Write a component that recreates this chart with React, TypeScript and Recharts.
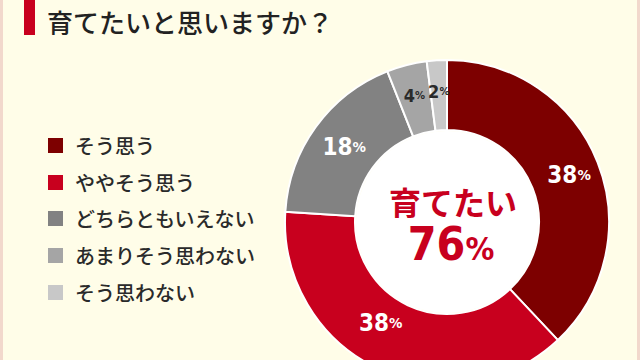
import React from 'react';
import { PieChart, Pie, Cell } from 'recharts';

const answers = ['そう思う', 'ややそう思う', 'どちらともいえない', 'あまりそう思わない', 'そう思わない'];
const shares = [38, 38, 18, 4, 2];
const colors = ['#7d0000', '#c8001e', '#828282', '#a5a5a5', '#c8c8c8'];
const labelColors = ['#ffffff', '#ffffff', '#ffffff', '#2a2a2a', '#2a2a2a'];

const centerTitle = '育てたい';
const centerValue = 76;

const data = answers.map((name, i) => ({ name, value: shares[i] }));

const CX = 447;
const CY = 222;
const RAD = Math.PI / 180;
const numFont = '"DejaVu Sans Condensed", "DejaVu Sans", Roboto, sans-serif';
const jpFont = '"Noto Sans CJK JP", "Noto Sans", sans-serif';

function SliceLabel(props: any) {
  const { cx, cy, midAngle, innerRadius, outerRadius, index, value } = props;
  // the lower red label sits a little further round the ring in the original
  const angle = index === 1 ? midAngle - 8 : midAngle;
  const r = index >= 3 ? outerRadius - 31 : (innerRadius + outerRadius) / 2 - (index === 1 ? 6 : 0);
  const x = cx + r * Math.cos(-angle * RAD) + (index === 0 ? 4 : 0);
  const y = cy + r * Math.sin(-angle * RAD);
  const big = index < 3 ? 24 : 18;
  return (
    <text x={x} y={y} textAnchor="middle" dominantBaseline="central" fill={labelColors[index]}
      fontFamily={numFont} fontWeight="bold" fontSize={big}>
      {value}
      <tspan fontSize={big * 0.62}>%</tspan>
    </text>
  );
}

export default function App() {
  return (
    <div style={{ position: 'absolute', left: 0, top: 0, width: 640, height: 360, overflow: 'hidden', background: '#fffde8' }}>
      <div style={{ position: 'absolute', left: 0, top: 0, width: 3, height: 360, background: '#f2d8cc' }} />
      <div style={{ position: 'absolute', right: 0, top: 0, width: 3, height: 360, background: '#f2d8cc' }} />
      <div style={{ position: 'absolute', left: 24, top: 0, width: 11, height: 35, background: '#c8001e' }} />
      <div style={{ position: 'absolute', left: 47, top: 3, fontSize: 26, lineHeight: '38px', color: '#222', fontFamily: jpFont, fontWeight: 500 }}>
        育てたいと思いますか？
      </div>
      <div style={{ position: 'absolute', left: 48, top: 127 }}>
        {answers.map((a, i) => (
          <div key={a} style={{ display: 'flex', alignItems: 'center', height: 36.7 }}>
            <span style={{ width: 15, height: 15, background: colors[i], marginRight: 12, display: 'inline-block' }} />
            <span style={{ fontSize: 20, color: '#2a2a2a', fontFamily: jpFont, fontWeight: 500 }}>{a}</span>
          </div>
        ))}
      </div>
      <PieChart width={640} height={360} style={{ position: 'absolute', left: 0, top: 0 }} margin={{ top: 0, right: 0, bottom: 0, left: 0 }}>
        <Pie
          data={data}
          dataKey="value"
          nameKey="name"
          cx={CX}
          cy={CY}
          innerRadius={92}
          outerRadius={162}
          startAngle={90}
          endAngle={-270}
          stroke="#ffffff"
          strokeWidth={2}
          label={SliceLabel}
          labelLine={false}
          isAnimationActive={false}
        >
          {data.map((d, i) => (
            <Cell key={d.name} fill={colors[i]} />
          ))}
        </Pie>
        <circle cx={CX} cy={CY} r={91} fill="#ffffff" />
        <g fill="#c8001e" textAnchor="middle" fontWeight="bold">
          <text x={CX + 6} y={CY - 7} fontSize={32} fontFamily={jpFont}>{centerTitle}</text>
          <text x={CX + 4} y={CY + 38} fontSize={46} fontFamily={numFont}>
            {centerValue}
            <tspan fontSize={32}>%</tspan>
          </text>
        </g>
      </PieChart>
    </div>
  );
}
